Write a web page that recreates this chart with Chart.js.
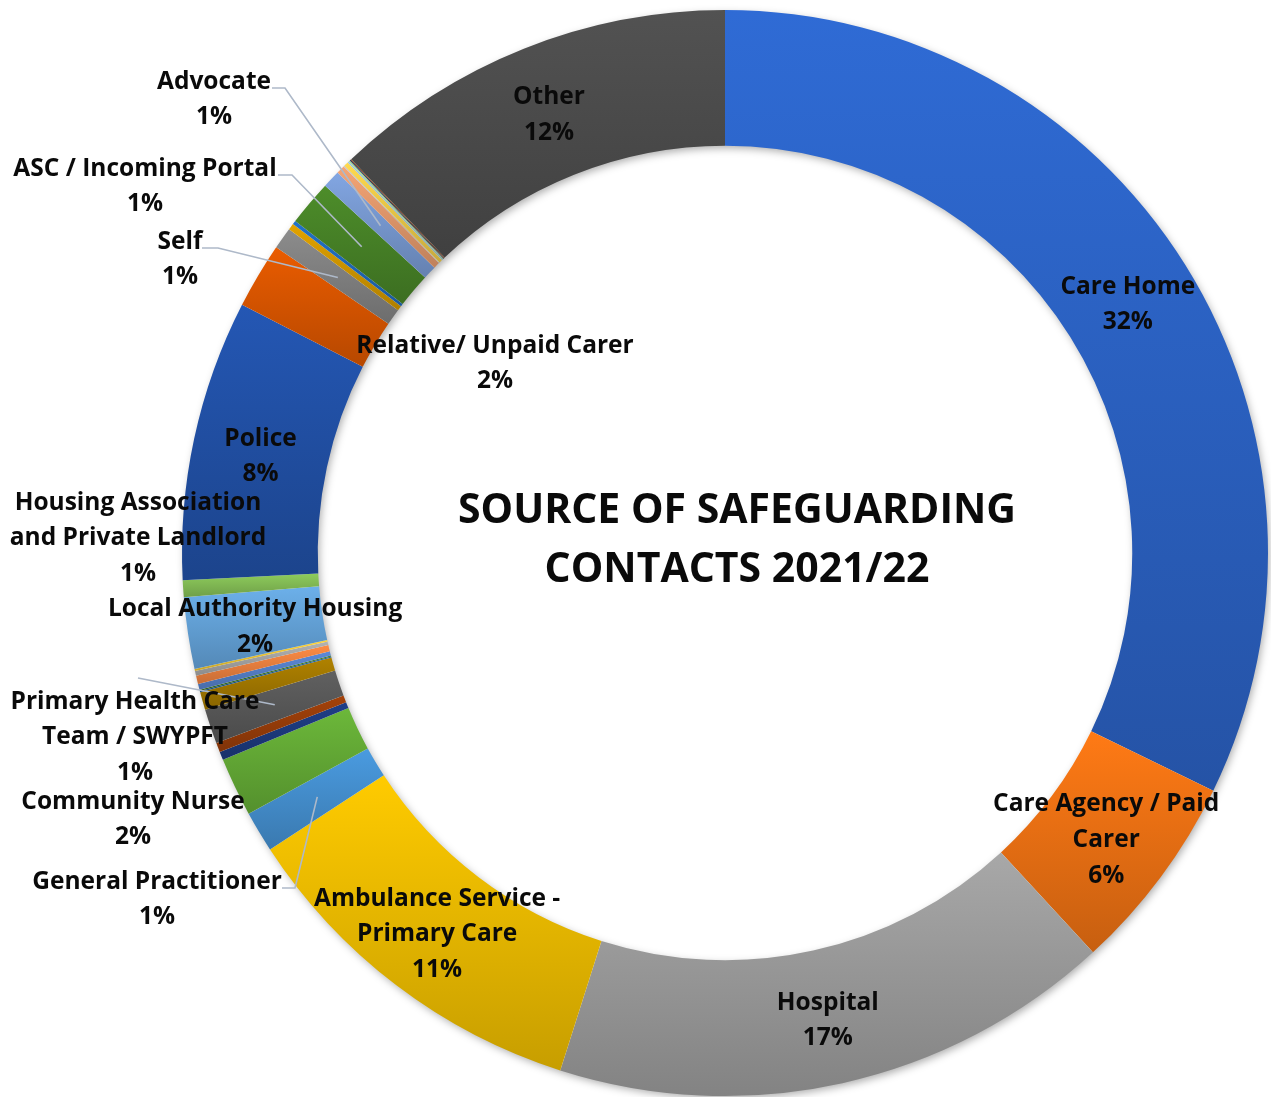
<!DOCTYPE html>
<html><head><meta charset="utf-8">
<script src="https://cdn.jsdelivr.net/npm/chart.js@4.4.1/dist/chart.umd.min.js"></script>
<style>html,body{margin:0;padding:0;background:#fff;}canvas{display:block;}</style>
</head><body>
<canvas id="c" width="1271" height="1097"></canvas>
<script>
const categories = [
  'Care Home','Care Agency / Paid Carer','Hospital','Ambulance Service - Primary Care',
  'General Practitioner','Community Nurse','Unlabelled A','Unlabelled B',
  'Primary Health Care Team / SWYPFT','Unlabelled C','Unlabelled D','Unlabelled E',
  'Unlabelled F','Unlabelled G','Unlabelled H','Unlabelled I',
  'Local Authority Housing','Housing Association and Private Landlord','Police',
  'Relative/ Unpaid Carer','Self','Unlabelled J','Unlabelled K','ASC / Incoming Portal',
  'Advocate','Unlabelled L','Unlabelled M','Unlabelled N','Unlabelled O','Unlabelled P',
  'Unlabelled Q','Unlabelled R','Other'
];
const shares = [
  32.2, 5.94, 16.75, 10.9, 1.22, 1.75, 0.25, 0.28, 1.03, 0.53, 0.04, 0.04, 0.17, 0.25, 0.14, 0.06,
  2.13, 0.5, 8.35, 1.96, 0.65, 0.19, 0.11, 1.36, 0.53, 0.25, 0.03, 0.14, 0.04, 0.04, 0.03, 0.03, 12.08
];
const sliceColors = [
  '#2F6BD5','#FF7A15','#A8A8A8','#FFCB00','#4A9BE0','#6CB83A','#1F3F88','#A4420A',
  '#606060','#B08200','#2062A4','#3F7D22','#5C8AD9','#FF8C45','#B3B3B3','#FFD436',
  '#6CB0EA','#8ECC5C','#2457B4','#EA5C00','#8C8C8C','#E2A300','#2272CA','#4D8D2A',
  '#82A6E2','#F5A575','#C4C4C4','#FFDA4E','#95C4EA','#ABDA8B','#1F3263','#853A0A','#525252'
];
const titleLines = ['SOURCE OF SAFEGUARDING', 'CONTACTS 2021/22'];

// label layout: index, text lines (percent added automatically), optional offset from chart centre, optional leader path
const labelLayout = [
  {i:0, lines:['Care Home']},
  {i:1, lines:['Care Agency / Paid','Carer']},
  {i:2, lines:['Hospital']},
  {i:3, lines:['Ambulance Service -','Primary Care']},
  {i:4, lines:['General Practitioner'], at:[-568,343], leader:[[-443,335],[-430,335]]},
  {i:5, lines:['Community Nurse'], at:[-592,263]},
  {i:8, lines:['Primary Health Care','Team / SWYPFT'], at:[-590,181], leader:[[-587,125]]},
  {i:16, lines:['Local Authority Housing']},
  {i:17, lines:['Housing Association','and Private Landlord'], at:[-587,-18]},
  {i:18, lines:['Police']},
  {i:19, lines:['Relative/ Unpaid Carer'], at:[-230,-193]},
  {i:20, lines:['Self'], at:[-545,-297], leader:[[-523,-305],[-507,-305]]},
  {i:23, lines:['ASC / Incoming Portal'], at:[-580,-370], leader:[[-447,-378],[-433,-378]]},
  {i:24, lines:['Advocate'], at:[-511,-457], leader:[[-453,-465],[-440,-465]]},
  {i:32, lines:['Other']}
];

function shade(hex, f){
  const n=parseInt(hex.slice(1),16);
  const r=Math.round(((n>>16)&255)*f), g=Math.round(((n>>8)&255)*f), b=Math.round((n&255)*f);
  return `rgb(${r},${g},${b})`;
}

function sliceFill(ctx){
  const base = sliceColors[ctx.dataIndex];
  const chart = ctx.chart, ca = chart.chartArea;
  if (!ca || ctx.type !== 'data') return base;
  const ctrl = chart.getDatasetMeta(0).controller;
  const rout = ctrl.outerRadius, rin = ctrl.innerRadius;
  if (!rout) return base;
  const cy = (ca.top + ca.bottom)/2;
  const total = shares.reduce((a,b)=>a+b,0);
  let a0 = -Math.PI/2;
  for (let k=0;k<ctx.dataIndex;k++) a0 += shares[k]/total*2*Math.PI;
  const a1 = a0 + shares[ctx.dataIndex]/total*2*Math.PI;
  const ys = [cy+rin*Math.sin(a0), cy+rout*Math.sin(a0), cy+rin*Math.sin(a1), cy+rout*Math.sin(a1)];
  [-Math.PI/2, Math.PI/2, 3*Math.PI/2].forEach(k=>{ if(k>=a0 && k<=a1) ys.push(cy+rout*Math.sin(k)); });
  const y0 = Math.min(...ys), y1 = Math.max(...ys);
  const g = chart.ctx.createLinearGradient(0, y0, 0, Math.max(y1, y0+1));
  g.addColorStop(0, base);
  g.addColorStop(1, shade(base, 0.78));
  return g;
}

const ringShadow = {
  id:'ringShadow',
  beforeDatasetsDraw(chart){
    const el = chart.getDatasetMeta(0).data[0];
    if(!el) return;
    const c = chart.ctx;
    c.save();
    c.shadowColor='rgba(0,0,0,0.35)'; c.shadowBlur=9; c.shadowOffsetX=2; c.shadowOffsetY=3;
    c.beginPath();
    c.arc(el.x, el.y, el.outerRadius-1, 0, Math.PI*2);
    c.arc(el.x, el.y, el.innerRadius+1, 0, Math.PI*2, true);
    c.fillStyle='#ffffff';
    c.fill('evenodd');
    c.restore();
  }
};

const sliceLabels = {
  id:'sliceLabels',
  afterDatasetsDraw(chart){
    const meta = chart.getDatasetMeta(0);
    const c = chart.ctx;
    const el0 = meta.data[0];
    const cx = el0.x, cy = el0.y;
    const total = shares.reduce((a,b)=>a+b,0);
    c.save();
    // leaders
    c.strokeStyle='#AEB9C9'; c.lineWidth=1.6;
    labelLayout.forEach(L=>{
      if(!L.leader) return;
      const p = meta.data[L.i].getCenterPoint();
      c.beginPath();
      L.leader.forEach((q,k)=>{ const x=cx+q[0], y=cy+q[1]; if(k===0) c.moveTo(x,y); else c.lineTo(x,y); });
      c.lineTo(p.x,p.y);
      c.stroke();
    });
    c.fillStyle='#0a0a0a';
    c.textAlign='center'; c.textBaseline='middle';
    c.font='bold 24.5px "Open Sans"';
    const lh = 35.7, dy = 3.5;
    labelLayout.forEach(L=>{
      const el = meta.data[L.i];
      let x,y;
      if(L.at){ x=cx+L.at[0]; y=cy+L.at[1]; }
      else { const p=el.getCenterPoint(); x=p.x; y=p.y; }
      const lines = L.lines.concat([Math.round(shares[L.i]/total*100)+'%']);
      const top = y + dy - (lines.length-1)*lh/2;
      lines.forEach((t,k)=>c.fillText(t, x, top+k*lh));
    });
    // title
    c.font='bold 41px "Open Sans"';
    c.fillText(titleLines[0], cx+12, cy-42);
    c.fillText(titleLines[1], cx+12, cy+17);
    c.restore();
  }
};

new Chart(document.getElementById('c'), {
  type:'doughnut',
  data:{ labels:categories, datasets:[{ data:shares, backgroundColor:sliceFill, borderWidth:0 }] },
  options:{
    responsive:false, animation:false, devicePixelRatio:1, events:[],
    cutout:'75%',
    layout:{ padding:{left:182, right:3, top:10, bottom:1} },
    plugins:{ legend:{display:false}, tooltip:{enabled:false}, title:{display:false} }
  },
  plugins:[ringShadow, sliceLabels]
});
</script>
</body></html>
